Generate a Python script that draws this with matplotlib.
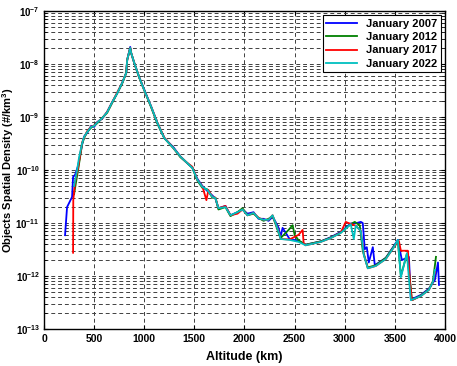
import numpy as np
import matplotlib
matplotlib.use('Agg')
import matplotlib.pyplot as plt
from matplotlib import ticker

plt.rcParams['font.family'] = ['Liberation Sans', 'DejaVu Sans']
plt.rcParams['font.weight'] = 'bold'
plt.rcParams['mathtext.fontset'] = 'custom'
plt.rcParams['mathtext.rm'] = 'Liberation Sans:bold'
plt.rcParams['mathtext.bf'] = 'Liberation Sans:bold'
plt.rcParams['mathtext.it'] = 'Liberation Sans:bold'

# altitude (km) and spatial density (#/km^3)
alt_2007 = [210, 230, 280, 290, 310, 340, 380, 400, 430, 470, 500, 530, 580, 630, 680, 730, 780,
            820, 830, 860, 870, 900, 950, 1000, 1070, 1130, 1200, 1290, 1360, 1420, 1480, 1530, 1580,
            1630, 1680, 1710, 1740, 1810, 1860, 1930, 1980, 2030, 2090, 2140, 2190, 2240, 2280, 2310,
            2340, 2360, 2380, 2450, 2540, 2610, 2760, 2860, 2960, 3060, 3120, 3160, 3180, 3200, 3220,
            3240, 3280, 3300, 3410, 3490, 3530, 3570, 3640, 3660, 3760, 3840, 3900, 3930, 3940]
den_2007 = [5.9e-12, 2.0e-11, 3.1e-11, 7.4e-11, 8.1e-11, 1.2e-10, 3.0e-10, 4.3e-10, 5.0e-10, 6.8e-10,
            6.5e-10, 8.0e-10, 9.3e-10, 1.25e-9, 1.9e-9, 2.8e-9, 4.4e-9, 6.8e-9, 1.2e-8, 2.1e-8, 1.6e-8,
            1.05e-8, 5.6e-9, 3.3e-9, 1.55e-9, 7.8e-10, 4.0e-10, 2.7e-10, 1.8e-10, 1.4e-10, 1.1e-10,
            6.8e-11, 5.0e-11, 4.0e-11, 3.3e-11, 2.9e-11, 1.9e-11, 2.1e-11, 1.4e-11, 1.6e-11, 1.8e-11,
            1.5e-11, 1.6e-11, 1.2e-11, 1.2e-11, 1.1e-11, 1.3e-11, 1.05e-11, 8.1e-12, 5.5e-12, 8.1e-12,
            5.0e-12, 4.6e-12, 3.9e-12, 4.5e-12, 5.4e-12, 6.8e-12, 9.8e-12, 1.0e-11, 1.05e-11, 1.0e-11,
            3.2e-12, 3.5e-12, 1.8e-12, 3.5e-12, 1.6e-12, 2.2e-12, 3.7e-12, 4.8e-12, 2.0e-12, 2.3e-12,
            3.6e-13, 4.4e-13, 5.8e-13, 8.5e-13, 1.8e-12, 6.8e-13]

alt_2012 = [300, 320, 340, 380, 400, 430, 470, 500, 530, 580, 630, 680, 730, 780, 820, 830, 860, 870,
            900, 950, 1000, 1070, 1130, 1200, 1290, 1360, 1420, 1480, 1530, 1580, 1630, 1680, 1710, 1740,
            1810, 1860, 1930, 1980, 2030, 2090, 2140, 2190, 2240, 2280, 2310, 2340, 2360, 2440, 2480,
            2500, 2540, 2610, 2760, 2860, 2960, 3060, 3100, 3150, 3180, 3230, 3310, 3410, 3490, 3530,
            3560, 3620, 3650, 3670, 3760, 3840, 3880, 3910]
den_2012 = [3.5e-11, 6.0e-11, 1.0e-10, 3.1e-10, 4.0e-10, 5.2e-10, 6.3e-10, 6.9e-10, 7.6e-10, 9.6e-10,
            1.2e-9, 1.85e-9, 2.8e-9, 4.3e-9, 6.8e-9, 1.2e-8, 2.0e-8, 1.6e-8, 1.05e-8, 5.5e-9, 3.2e-9,
            1.5e-9, 7.6e-10, 4.0e-10, 2.6e-10, 1.75e-10, 1.4e-10, 1.1e-10, 6.3e-11, 4.6e-11, 4.3e-11,
            3.0e-11, 3.0e-11, 1.8e-11, 2.0e-11, 1.35e-11, 1.6e-11, 1.9e-11, 1.4e-11, 1.5e-11, 1.25e-11,
            1.1e-11, 1.2e-11, 1.35e-11, 9.5e-12, 6.5e-12, 5.2e-12, 7.4e-12, 9.1e-12, 6.0e-12, 4.7e-12,
            3.9e-12, 4.5e-12, 5.3e-12, 6.6e-12, 9.5e-12, 1.05e-11, 9.0e-12, 3.0e-12, 1.45e-12, 1.6e-12,
            2.2e-12, 3.6e-12, 4.6e-12, 1.0e-12, 2.6e-12, 8.5e-13, 3.5e-13, 4.3e-13, 5.6e-13, 8.0e-13,
            2.3e-12]

alt_2017 = [290, 292, 310, 340, 380, 400, 430, 470, 500, 530, 580, 630, 680, 730, 780, 820, 830, 860,
            870, 900, 950, 1000, 1070, 1130, 1200, 1290, 1360, 1420, 1480, 1530, 1580, 1620, 1640, 1680,
            1710, 1740, 1810, 1860, 1930, 1980, 2030, 2090, 2140, 2190, 2240, 2280, 2310, 2340, 2360,
            2450, 2540, 2580, 2590, 2610, 2760, 2860, 2960, 3010, 3060, 3110, 3160, 3190, 3230, 3310,
            3410, 3490, 3540, 3560, 3630, 3650, 3670, 3760, 3840, 3880, 3900]
den_2017 = [2.75e-12, 2.7e-11, 6.0e-11, 1.1e-10, 3.3e-10, 4.1e-10, 5.4e-10, 6.6e-10, 6.9e-10, 7.9e-10,
            9.4e-10, 1.25e-9, 1.9e-9, 2.9e-9, 4.4e-9, 6.8e-9, 1.2e-8, 2.0e-8, 1.6e-8, 1.05e-8, 5.6e-9,
            3.2e-9, 1.55e-9, 7.9e-10, 4.1e-10, 2.6e-10, 1.8e-10, 1.4e-10, 1.15e-10, 6.5e-11, 4.9e-11,
            2.7e-11, 4.2e-11, 3.1e-11, 3.0e-11, 1.9e-11, 2.1e-11, 1.4e-11, 1.5e-11, 1.8e-11, 1.4e-11,
            1.55e-11, 1.25e-11, 1.15e-11, 1.15e-11, 1.4e-11, 1.0e-11, 7.0e-12, 5.0e-12, 4.9e-12, 6.0e-12,
            7.4e-12, 4.2e-12, 3.8e-12, 4.4e-12, 5.2e-12, 6.6e-12, 1.05e-11, 9.6e-12, 8.9e-12, 7.1e-12,
            2.6e-12, 1.4e-12, 1.55e-12, 2.1e-12, 3.5e-12, 4.6e-12, 3.0e-12, 3.0e-12, 8.0e-13, 3.5e-13,
            4.2e-13, 5.5e-13, 7.8e-13, 1.2e-12]

alt_2022 = [300, 330, 350, 380, 400, 430, 470, 500, 530, 580, 630, 680, 730, 780, 820, 830, 860, 870,
            900, 950, 1000, 1070, 1130, 1200, 1290, 1360, 1420, 1480, 1530, 1580, 1630, 1680, 1710, 1740,
            1810, 1860, 1930, 1980, 2030, 2090, 2140, 2190, 2240, 2280, 2310, 2340, 2360, 2450, 2540,
            2610, 2760, 2860, 2960, 3060, 3090, 3110, 3160, 3190, 3230, 3310, 3410, 3490, 3530, 3560,
            3620, 3640, 3660, 3760, 3840, 3880, 3900]
den_2022 = [5.0e-11, 1.0e-10, 1.74e-10, 3.2e-10, 4.2e-10, 5.2e-10, 6.5e-10, 6.8e-10, 7.8e-10, 9.5e-10,
            1.23e-9, 1.9e-9, 2.8e-9, 4.4e-9, 6.8e-9, 1.2e-8, 2.0e-8, 1.6e-8, 1.05e-8, 5.6e-9, 3.2e-9,
            1.55e-9, 7.8e-10, 4.0e-10, 2.6e-10, 1.8e-10, 1.4e-10, 1.1e-10, 6.5e-11, 4.8e-11, 4.2e-11,
            3.1e-11, 2.95e-11, 1.9e-11, 2.0e-11, 1.4e-11, 1.6e-11, 1.8e-11, 1.4e-11, 1.55e-11, 1.23e-11,
            1.15e-11, 1.15e-11, 1.4e-11, 1.0e-11, 6.8e-12, 5.0e-12, 4.8e-12, 4.4e-12, 3.8e-12, 4.4e-12,
            5.2e-12, 6.5e-12, 9.5e-12, 5.0e-12, 8.9e-12, 7.1e-12, 2.5e-12, 1.4e-12, 1.55e-12, 2.1e-12,
            3.5e-12, 4.8e-12, 9.5e-13, 2.7e-12, 9.1e-13, 3.5e-13, 4.2e-13, 5.5e-13, 7.8e-13, 1.3e-12]

series = [
    (alt_2007, den_2007, 'January 2007', (0, 0, 1)),
    (alt_2012, den_2012, 'January 2012', (0, 0.5, 0)),
    (alt_2017, den_2017, 'January 2017', (1, 0, 0)),
    (alt_2022, den_2022, 'January 2022', (0, 0.75, 0.75)),
]

fig = plt.figure(figsize=(4.57, 3.66), dpi=100)
ax = fig.add_axes([0.0963, 0.101, 0.8774, 0.869])

for alt, den, label, color in series:
    ax.plot(alt, den, color=color, lw=1.3, label=label)

ax.set_yscale('log')
ax.set_xlim(0, 4000)
ax.set_ylim(1e-13, 1e-7)
ax.set_xticks(np.arange(0, 4001, 500))
ax.yaxis.set_major_locator(ticker.LogLocator(base=10, numticks=10))
ax.yaxis.set_minor_locator(ticker.LogLocator(base=10, subs=np.arange(2, 10), numticks=10))
ax.yaxis.set_minor_formatter(ticker.NullFormatter())
ax.yaxis.set_major_formatter(ticker.FuncFormatter(lambda v, p: r'$10^{%d}$' % round(np.log10(v))))

ax.grid(True, which='major', axis='x', ls=(0, (4, 3)), color='0.25', lw=0.7)
ax.grid(True, which='both', axis='y', ls=(0, (4, 3)), color='0.25', lw=0.7)
ax.tick_params(which='both', direction='in', top=True, right=True, labelsize=7.5)
ax.tick_params(axis='y', which='major', labelsize=7, pad=3)
ax.tick_params(which='major', length=3)
ax.tick_params(which='minor', length=2)
for sp in ax.spines.values():
    sp.set_linewidth(1.0)

ax.set_xlabel('Altitude (km)', fontsize=9, fontweight='bold')
ax.set_ylabel('Objects Spatial Density (#/km$^3$)', fontsize=8, fontweight='bold')
ax.yaxis.set_label_coords(-0.071, 0.5)
ax.xaxis.set_label_coords(0.5, -0.07)

leg = ax.legend(loc='upper right', fontsize=8, fancybox=False, framealpha=1,
                edgecolor='black', handlelength=2.8, borderaxespad=0.4,
                labelspacing=0.3, borderpad=0.3)
leg.get_frame().set_linewidth(0.8)
for t in leg.get_texts():
    t.set_fontweight('bold')

fig.savefig('out.png', dpi=100)
